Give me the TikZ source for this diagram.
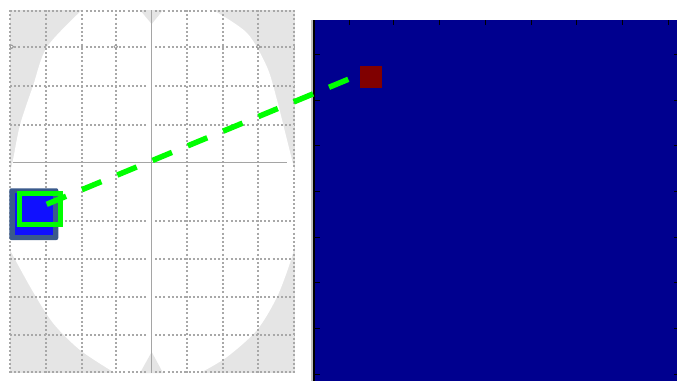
\documentclass[tikz,border=0pt]{standalone}
\begin{document}
\begin{tikzpicture}[x=1pt,y=-1pt,
  gridline/.style={draw=gridgray,line width=1.7pt,dash pattern=on 2pt off 2.2pt},
  axisline/.style={draw=axisgray,line width=1.2pt},
  tickmark/.style={draw=black,line width=0.9pt},
  greenbox/.style={draw=limegreen,line width=5pt,minimum width=40.4pt,minimum height=31pt,inner sep=0pt,fill=none},
  redbox/.style={fill=darkred,minimum size=22.3pt,inner sep=0pt},
  link/.style={draw=limegreen,line width=5.5pt,dash pattern=on 21pt off 17.2pt}]
\definecolor{lightgr}{RGB}{229,229,229}
\definecolor{gridgray}{RGB}{168,168,168}
\definecolor{axisgray}{RGB}{165,165,165}
\definecolor{ringgray}{RGB}{150,150,150}
\definecolor{edgegray}{RGB}{190,190,190}
\definecolor{limegreen}{RGB}{0,255,0}
\definecolor{darkred}{RGB}{128,0,0}
\definecolor{navy}{RGB}{0,0,143}
\definecolor{steel}{RGB}{58,90,140}
\definecolor{brightblue}{RGB}{16,16,255}
\useasboundingbox (0,0) rectangle (677,381);
\fill[white] (0,0) rectangle (677,381);
% left panel
\fill[lightgr] (10,10) rectangle (295,373);
\fill[white] (82,10) -- (213,10)
  -- plot[smooth] coordinates {(213,10) (247,33) (267,67) (277,100) (287,140) (295,172)}
  -- (295,245)
  -- plot[smooth] coordinates {(295,245) (290,263) (277,297) (257,330) (227,357) (200,373)}
  -- (115,373)
  -- plot[smooth] coordinates {(115,373) (80,350) (53,323) (32,290) (10,250)}
  -- (10,172)
  -- plot[smooth] coordinates {(10,172) (13,160) (20,125) (33,86) (47,47) (82,10)}
  -- cycle;
\fill[lightgr] (140,10) -- (163,10) -- (151.7,24) -- cycle;
\fill[lightgr] (140,373) -- (163,373) -- (151.7,352) -- cycle;
% grid
\foreach \x in {10,45.7,81.7,115.7,186.7,222.7,258.3,294}
  \draw[gridline] (\x,10) -- (\x,373);
\foreach \y in {11,46.7,86,125,221,259,296.7,335,371.7}
  {\draw[gridline] (10,\y) -- (148,\y);
   \draw[gridline] (155,\y) -- (295,\y);}
\foreach \x in {11.7,115.7,258.3}
  \draw[draw=ringgray,line width=0.8pt,fill=white] (\x,46.7) circle (1.8);
\draw[axisline] (151.7,10) -- (151.7,373);
\draw[axisline] (13,162.3) -- (287,162.3);
% blue patch
\fill[steel,rounded corners=2pt] (9.3,188.3) rectangle (58.3,240);
\fill[brightblue] (15,193) rectangle (53,235);
\node[greenbox] (src) at (40,208.7) {};
% right panel
\fill[navy] (313,20) rectangle (677,381);
\fill[edgegray] (311,20) rectangle (313.3,381);
\draw[black,line width=1.6pt] (314.1,20) -- (314.1,381);
\foreach \y in {54.3,100,145.7,191.4,237.1,282.8,328.5,374.2}
  {\draw[tickmark] (315,\y) -- (320,\y);
   \draw[tickmark] (677,\y) -- (674,\y);}
\foreach \x in {349,393.3,439.3,485,531,576.7,622.3,668.3}
  \draw[tickmark] (\x,20) -- (\x,24.5);
\node[redbox] (dst) at (371.2,77.2) {};
% connector
\coordinate (a) at (46.7,204.3);
\coordinate (b) at (348.3,79.3);
\draw[link] (a) -- (b);
\end{tikzpicture}
\end{document}
